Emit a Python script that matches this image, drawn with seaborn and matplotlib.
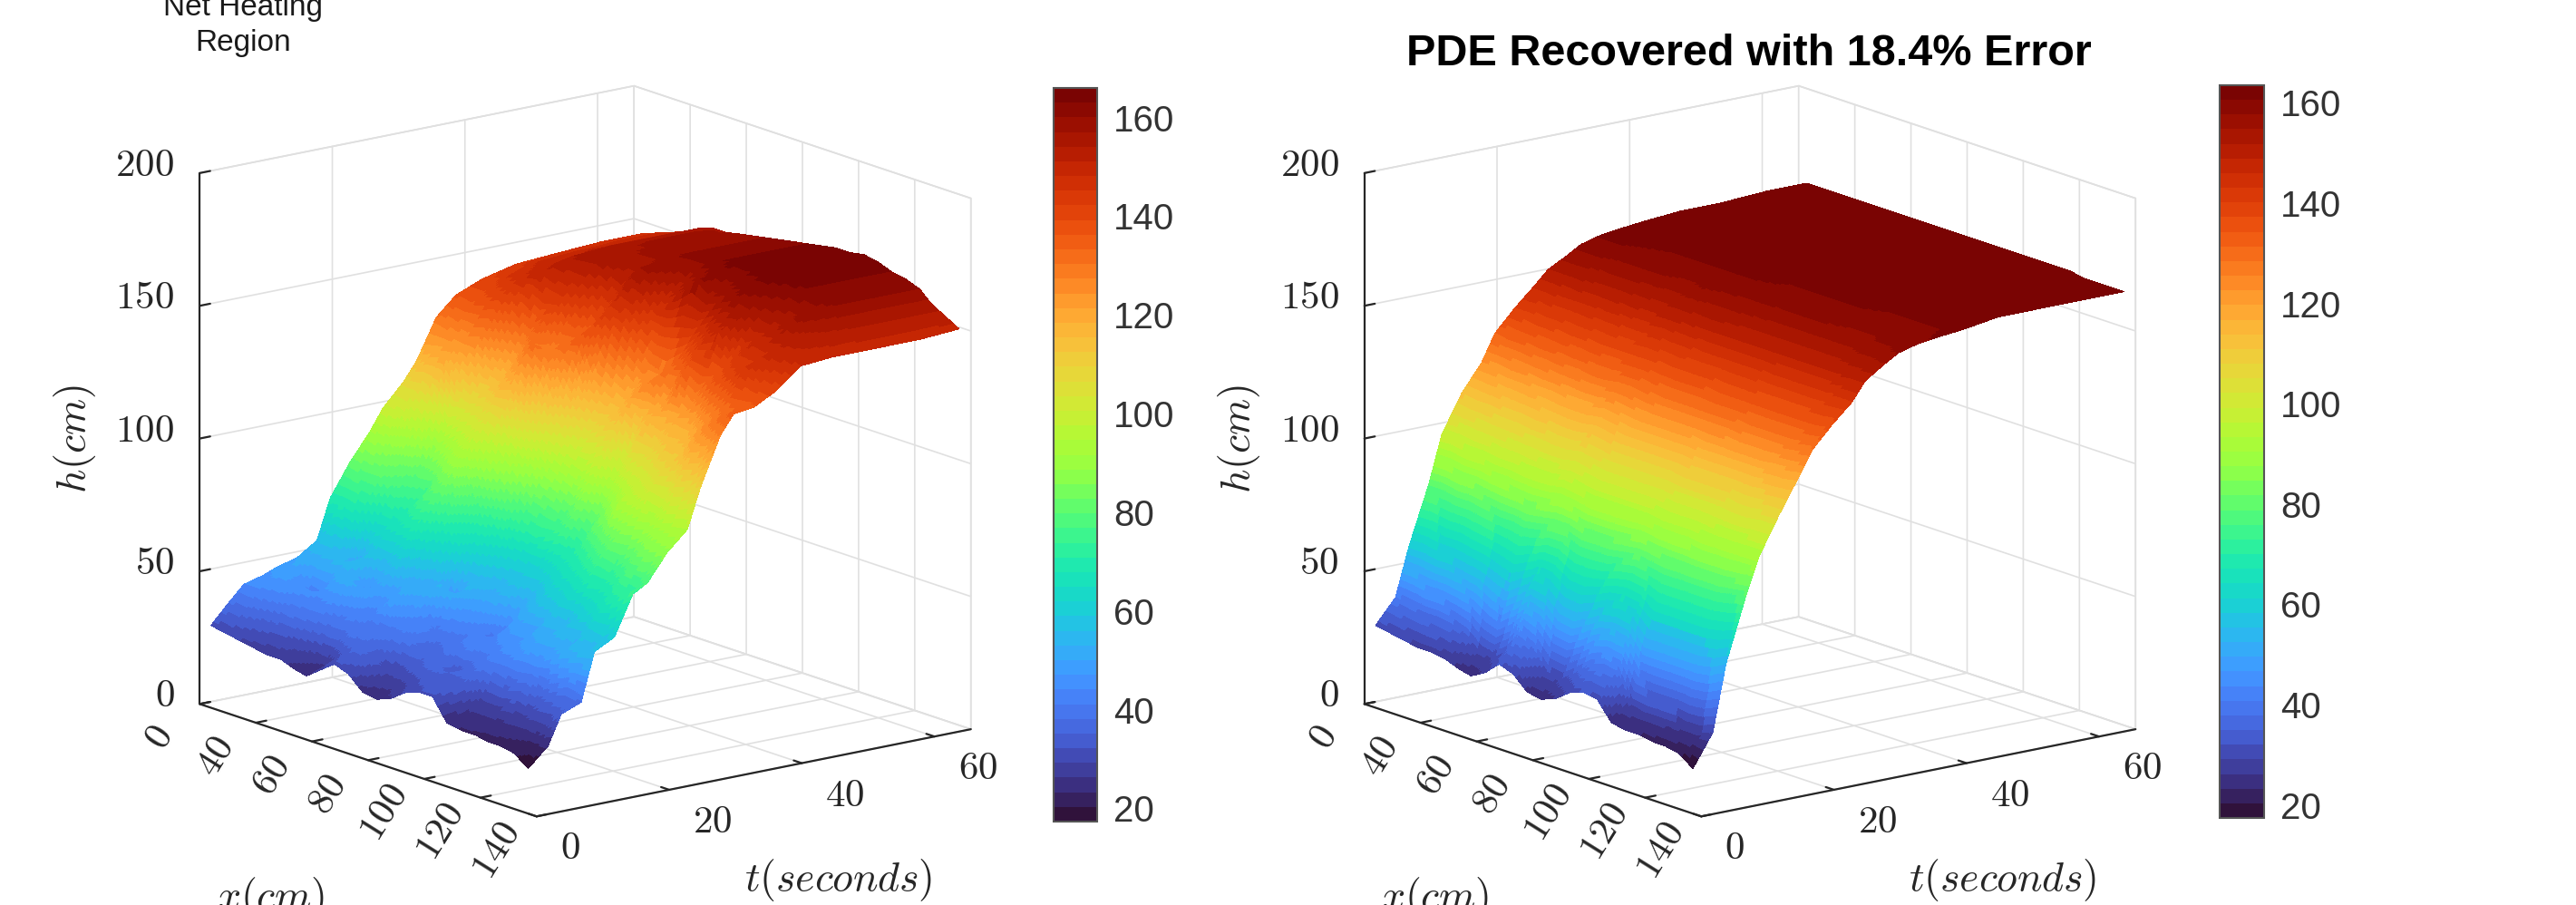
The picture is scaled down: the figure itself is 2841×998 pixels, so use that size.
import numpy as np
import matplotlib
matplotlib.use("Agg")
import matplotlib.pyplot as plt
from matplotlib.colors import Normalize
from matplotlib.cm import ScalarMappable
from mpl_toolkits.mplot3d import proj3d
import seaborn as sns

x_cm = [24,29,34,39,44,49,54,58,63,68,73,78,83,88,93,98,103,108,113,118,123,127,132,137]
t_s = [0,3,5,8,10,13,16,18,21,24,26,29,31,34,37,41,46,52,59,65]

h_measured = [
[31,39,44,46,48,50,55,70,82,92,100,108,115,130,137,141,144,145,146,146],
[30,38,44,48,50,52,60,70,80,90,98,108,118,128,136,142,146,147,148,148],
[29,35,43,47,44,53,58,68,80,84,90,104,120,126,138,146,149,150,150,150],
[28,33,40,46,42,54,50,62,74,78,82,96,112,128,140,148,150,152,152,152],
[27,33,39,44,50,55,58,64,70,76,86,100,108,122,134,150,154,155,155,155],
[27,30,38,46,52,46,56,66,76,84,92,102,110,118,130,148,155,157,157,157],
[25,27,36,43,48,50,60,68,78,88,96,106,116,126,136,146,156,157,158,157],
[24,26,36,44,42,48,54,62,72,80,90,104,118,132,128,142,154,158,158,158],
[28,32,40,38,48,52,50,56,66,72,84,98,110,128,132,136,152,159,160,159],
[32,36,38,40,42,48,54,46,60,68,78,92,104,116,136,144,158,160,160,160],
[30,35,32,40,44,40,50,54,56,64,72,86,100,110,122,142,156,161,161,161],
[25,28,30,38,36,42,46,50,54,62,70,84,96,106,118,136,150,162,162,162],
[24,27,33,36,38,40,44,48,58,60,72,80,94,110,116,130,154,163,163,163],
[26,30,35,38,40,44,38,46,54,64,74,86,98,112,124,128,160,164,164,164],
[30,33,36,33,42,42,48,52,58,68,70,82,92,104,128,134,156,164,165,165],
[32,33,34,38,40,46,50,56,64,70,80,88,100,116,122,140,158,165,165,165],
[32,34,35,40,44,46,50,58,66,76,84,96,104,112,132,146,160,165,166,166],
[24,25,28,40,45,50,56,62,70,82,94,100,106,118,126,150,158,164,165,165],
[23,25,28,38,48,52,54,64,76,86,96,104,114,116,134,142,156,163,163,163],
[23,24,29,40,46,54,60,66,74,88,100,110,112,124,138,148,154,162,162,162],
[22,25,28,36,50,52,64,68,78,90,98,114,122,128,142,146,158,160,160,160],
[22,24,30,38,52,58,68,74,84,92,104,120,126,132,146,150,154,156,156,156],
[21,23,30,40,54,56,72,72,86,94,106,122,132,134,142,150,152,153,153,153],
[17,24,35,38,56,60,76,78,88,95,110,128,135,136,140,148,149,149,149,150],
]

h_recovered = [
[31,40,58,80,98,112,122,132,140,147,152,156,159,161,162,163,164,164,165,165],
[30,39,58,80,98,111,122,131,140,147,152,156,159,161,162,163,164,164,165,165],
[29,38,57,79,97,111,121,131,139,146,152,156,159,161,162,163,164,164,165,165],
[28,38,57,79,97,110,121,130,139,146,151,155,158,160,162,163,164,164,165,165],
[28,37,56,78,96,110,120,130,138,146,151,155,158,160,161,163,164,164,165,165],
[27,35,55,77,96,109,120,129,138,145,151,155,158,160,161,163,164,164,165,165],
[25,30,52,77,95,109,119,129,137,145,150,155,158,160,161,163,164,164,165,165],
[24,29,50,76,95,108,119,128,137,144,150,154,157,160,161,162,164,164,165,165],
[27,33,54,77,95,108,119,128,137,144,150,154,157,160,161,162,164,164,165,165],
[32,41,58,78,96,109,120,129,137,145,150,155,158,160,161,162,164,164,165,165],
[30,38,57,78,95,108,119,129,137,144,150,154,157,160,161,162,164,164,165,165],
[25,31,52,76,94,107,118,128,136,144,149,154,157,159,161,162,164,164,165,165],
[24,30,51,76,94,107,118,127,136,143,149,154,157,159,160,162,163,164,164,165],
[26,34,54,76,94,107,118,127,136,143,149,153,157,159,160,162,163,164,164,165],
[30,39,57,77,94,107,118,127,136,143,149,153,156,159,160,162,163,164,164,165],
[32,41,58,78,94,107,118,127,135,143,149,153,156,159,160,162,163,164,164,165],
[31,40,57,77,93,106,117,127,135,143,149,153,156,159,160,162,163,164,164,165],
[24,29,50,76,93,106,117,127,135,142,149,153,156,159,160,162,163,164,164,165],
[23,28,50,76,93,106,117,126,135,142,149,153,156,158,160,161,163,164,164,165],
[23,28,50,76,92,106,117,126,135,142,149,153,156,158,160,161,163,164,164,165],
[22,28,50,76,92,105,117,126,135,142,149,153,156,158,160,161,163,164,164,164],
[22,27,50,76,92,105,118,126,135,142,149,154,157,159,160,161,163,164,164,164],
[21,27,51,77,92,106,118,127,135,143,150,154,157,159,160,161,163,164,164,164],
[17,29,54,78,92,106,119,128,136,143,150,155,158,160,161,162,164,164,164,164],
]

x_ticks = [20,40,60,80,100,120,140]
x_tick_labels = ["0","40","60","80","100","120","140"]
t_ticks = [0,20,40,60]
z_ticks = [0,50,100,150,200]
cbar_ticks = [20,40,60,80,100,120,140,160]

W, H = 2841, 998
DPI = 100
sns.set_theme(style="white", rc={"mathtext.fontset": "cm", "xtick.bottom": True, "ytick.left": True})
plt.rcParams["font.family"] = ["Liberation Sans", "DejaVu Sans"]
cmap = matplotlib.colormaps["turbo"].resampled(50)
INK = "#262626"

fig = plt.figure(figsize=(W/DPI, H/DPI), dpi=DPI, facecolor="white")


def shading_mesh(values, n=8):
    """Colour-interpolated (Gouraud-like) rendering of the cells: mplot3d has no such shading."""
    v = np.asarray(values, float)
    xi = np.asarray(x_cm, float)
    ti = np.asarray(t_s, float)
    xf = np.concatenate([np.linspace(a, b, n, endpoint=False) for a, b in zip(xi[:-1], xi[1:])] + [xi[-1:]])
    tf = np.concatenate([np.linspace(a, b, n, endpoint=False) for a, b in zip(ti[:-1], ti[1:])] + [ti[-1:]])
    a = np.array([np.interp(tf, ti, row) for row in v])
    b = np.array([np.interp(xf, xi, a[:, j]) for j in range(a.shape[1])]).T
    T, X = np.meshgrid(tf, xf)
    return X, T, b


def panel(cx, cy, values, vmin, vmax, cbar_box):
    S = 800
    x0 = cx - 0.5135*S
    y0 = (H - cy) - 0.5135*S
    ax = fig.add_axes([x0/W, y0/H, S/W, S/H], projection="3d", proj_type="ortho")
    ax.set_box_aspect((1, 1, 1), zoom=1.274)
    ax.view_init(elev=15, azim=-37.8)
    ax.patch.set_alpha(0)
    norm = Normalize(vmin, vmax)
    X, T, Z = shading_mesh(values)
    surf = ax.plot_surface(X, T, np.clip(Z, 0, 200), cmap=cmap, norm=norm, rcount=Z.shape[0], ccount=Z.shape[1],
                           linewidth=0, edgecolor="none", antialiased=False)
    surf.set_clip_on(False)
    ax.set_xlim(20, 140); ax.set_ylim(0, 65.5); ax.set_zlim(0, 200)
    ax.set_xticks(x_ticks); ax.set_xticklabels([])
    ax.set_yticks(t_ticks); ax.set_yticklabels([])
    ax.set_zticks(z_ticks); ax.set_zticklabels([])
    ax.zaxis.set_ticks_position("lower")
    for a in (ax.xaxis, ax.yaxis, ax.zaxis):
        a.set_pane_color((1, 1, 1, 1))
        a.pane.set_edgecolor("#dcdcdc")
        a.pane.set_linewidth(1.2)
        a.line.set_color(INK)
        a.line.set_linewidth(1.6)
        a._axinfo["grid"].update(color="#e0e0e0", linewidth=1.2)
        a._axinfo["tick"].update(inward_factor=0.0, outward_factor=0.3, color=INK)
        a._axinfo["tick"]["linewidth"] = {True: 1.6, False: 1.0}
        for tk in a.get_major_ticks():
            tk.tick1line.set_visible(True)
            tk.tick1line.set_color(INK)

    # tick labels placed from the projected tick positions, offset in pixels
    M = ax.get_proj()

    def tick_label(xyz, s, dx, dy, **kw):
        px, py, _ = proj3d.proj_transform(*xyz, M)
        ax.annotate(f"${s}$", xy=(px, py), xytext=(dx, dy), textcoords="offset pixels",
                    fontsize=31, color=INK, annotation_clip=False, **kw)

    for tick, s in zip(x_ticks, x_tick_labels):
        tick_label((tick, 0, 0), s, -44, -38, ha="center", va="center", rotation=58, rotation_mode="anchor")
    for tick in t_ticks:
        tick_label((140, tick, 0), tick, 26, -36, ha="left", va="center")
    for tick in z_ticks:
        tick_label((20, 0, tick), tick, -28, 8, ha="right", va="center")

    # colour bar
    l, t, r, b = cbar_box
    cax = fig.add_axes([l/W, (H-b)/H, (r-l)/W, (b-t)/H])
    cb = fig.colorbar(ScalarMappable(norm=norm, cmap=cmap), cax=cax, ticks=cbar_ticks)
    cb.ax.tick_params(labelsize=29, direction="in", length=6, width=1.3, color=INK, labelcolor="#333333", pad=13)
    cb.outline.set_edgecolor("#555555")
    cb.outline.set_linewidth(1.5)
    return ax


panel(645.5, 497.5, h_measured, 17.3, 166, (1162, 97, 1210, 906))
panel(1930, 497.5, h_recovered, 17.4, 163.5, (2448, 94, 2497, 902))


def txt(px, py, s, **kw):
    fig.text(px/W, 1 - py/H, s, ha="center", va="center", **kw)


for off in (0, 1284):
    txt(83+off, 484, r"$h(cm)$", fontsize=33, rotation=90, color=INK)
    txt(299+off, 990, r"$x(cm)$", fontsize=33, color=INK)
    txt(925+off, 970, r"$t(seconds)$", fontsize=33, color=INK)

txt(268, 28, "Net Heating\nRegion", fontsize=24, color="#1a1a1a", linespacing=1.36)
txt(1929, 60, "PDE Recovered with 18.4% Error", fontsize=35, fontweight="bold", color="black")

fig.savefig("out.png", dpi=DPI)
